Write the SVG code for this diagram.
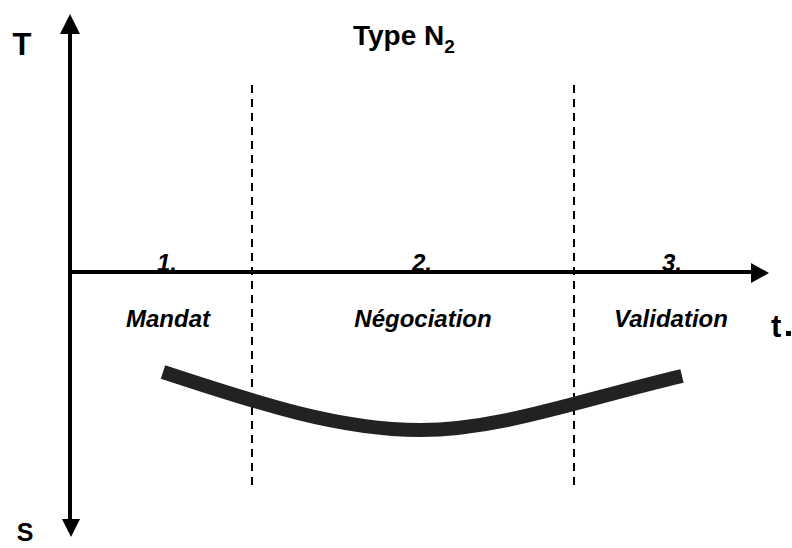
<svg xmlns="http://www.w3.org/2000/svg" width="792" height="548" viewBox="0 0 792 548">
<style>
.t{font-family:"Liberation Sans",Arial,sans-serif;font-weight:bold;fill:#000}
.lab{font-size:24px;font-style:italic}
.dash{stroke:#000;stroke-width:2;stroke-dasharray:8,6;fill:none}
</style>
<g id="connectors">
<line x1="70" y1="33" x2="70" y2="520" stroke="#000" stroke-width="4"/>
<polygon points="70,14 60,34 80,34" fill="#000"/>
<polygon points="71,537 62,519 80,519" fill="#000"/>
<line x1="68" y1="272" x2="753" y2="272" stroke="#000" stroke-width="4"/>
<polygon points="769,273 751,263 751,283" fill="#000"/>
<line class="dash" x1="252" y1="85" x2="252" y2="485"/>
<line class="dash" x1="574" y1="85" x2="574" y2="485"/>
</g>
<g id="curve">
<path d="M163,372 C260,404 340,430 420,430 C500,430 580,400 682,376" stroke="#222" stroke-width="14" fill="none"/>
</g>
<g id="axis-labels">
<text class="t" x="22" y="55" font-size="31" text-anchor="middle">T</text>
<text class="t" x="25" y="541" font-size="25" text-anchor="middle">S</text>
<text class="t" x="771" y="337" font-size="31">t</text>
<rect x="786" y="331" width="5" height="5" fill="#000"/>
</g>
<g id="title">
<text class="t" x="353" y="45" font-size="28">Type N<tspan font-size="19" dy="8">2</tspan></text>
</g>
<g id="phase1">
<text class="t lab" x="167" y="271" text-anchor="middle">1.</text>
<text class="t lab" x="168" y="327" text-anchor="middle">Mandat</text>
</g>
<g id="phase2">
<text class="t lab" x="422" y="271" text-anchor="middle">2.</text>
<text class="t lab" x="423" y="327" text-anchor="middle">Négociation</text>
</g>
<g id="phase3">
<text class="t lab" x="672" y="271" text-anchor="middle">3.</text>
<text class="t lab" x="671" y="327" text-anchor="middle">Validation</text>
</g>
</svg>
